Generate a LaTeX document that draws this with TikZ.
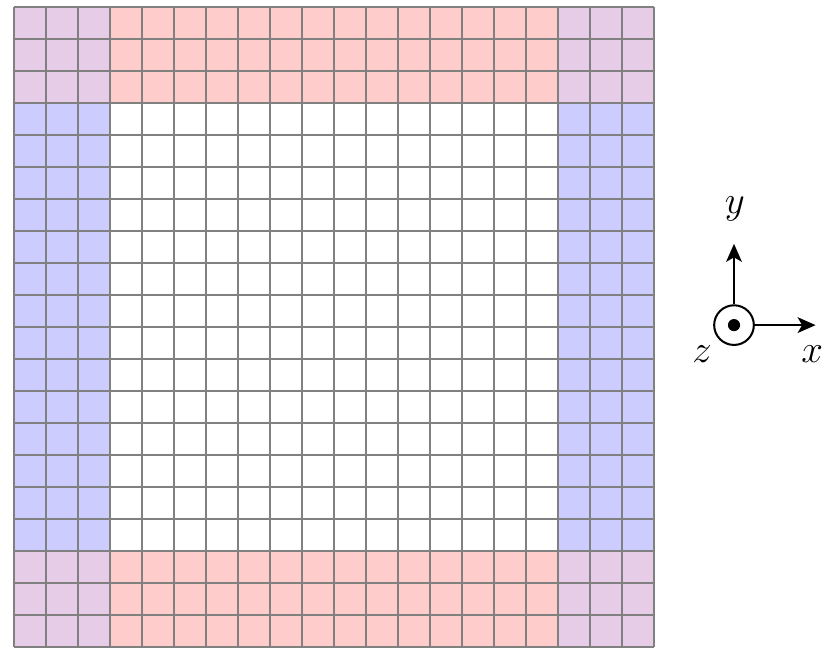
\documentclass[tikz,border=0pt]{standalone}
\usepackage{xcolor}
\usetikzlibrary{arrows.meta,positioning,calc}
\definecolor{cornerfill}{RGB}{230,204,230}

\begin{document}
\begin{tikzpicture}[x=0.5cm, y=0.5cm, font=\LARGE,
    gridline/.style={draw=gray, line width=0.9pt},
    axisline/.style={line width=0.9pt, -{Stealth[length=8pt, width=7pt, inset=2pt]}}]
  \useasboundingbox (-0.4375,-0.03) rectangle (25.3125,20.22);
  % boundary layers
  \fill[red!20] (3,0) rectangle (17,3);
  \fill[red!20] (3,17) rectangle (17,20);
  \fill[blue!20] (0,3) rectangle (3,17);
  \fill[blue!20] (17,3) rectangle (20,17);
  \foreach \cx/\cy in {0/0, 17/0, 0/17, 17/17}
    \fill[cornerfill] (\cx,\cy) rectangle ++(3,3);
  \draw[gridline, step=0.5cm] (0,0) grid (20,20);
  % coordinate system
  \node[circle, draw, line width=0.9pt, minimum size=0.62cm, inner sep=0pt] (zaxis) at (22.5,10.06) {};
  \fill (zaxis.center) circle (0.095cm);
  \coordinate (xtip) at (25.05,10.06);
  \coordinate (ytip) at (22.5,12.6);
  \draw[axisline] (zaxis.east) -- (xtip);
  \draw[axisline] (zaxis.north) -- (ytip);
  \node (xlabel) at (24.94,9.16) {$x$};
  \node (ylabel) at (22.53,13.69) {$y$};
  \node (zlabel) at (21.5,9.16) {$z$};
\end{tikzpicture}
\end{document}
